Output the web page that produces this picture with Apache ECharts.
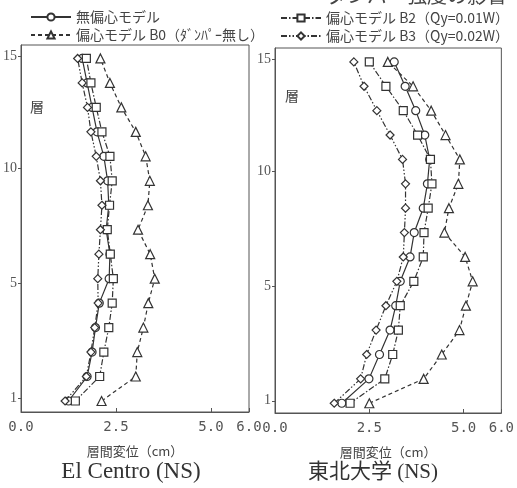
<!DOCTYPE html>
<html><head><meta charset="utf-8">
<script src="https://cdn.jsdelivr.net/npm/echarts@6/dist/echarts.min.js"></script>
<style>html,body{margin:0;padding:0;background:#fff}#c{width:517px;height:488px}</style>
</head><body><div id="c"></div>
<script>
const floors = [1,2,3,4,5,6,7,8,9,10,11,12,13,14,15];
const seriesNames = ['無偏心モデル', '偏心モデル B0（ﾀﾞﾝﾊﾟｰ無し）', '偏心モデル B2（Qy=0.01W）', '偏心モデル B3（Qy=0.02W）'];
// El Centro (NS) — inter-storey drift (cm), floor 1..15
const elNoEcc = [1.25,1.74,1.87,1.96,2.06,2.32,2.34,2.24,2.31,2.28,2.18,2.00,1.87,1.74,1.61];
const elB0    = [2.12,3.02,3.06,3.22,3.35,3.52,3.40,3.08,3.34,3.39,3.28,3.02,2.64,2.34,2.09];
const elB2    = [1.43,2.07,2.18,2.31,2.40,2.43,2.35,2.27,2.33,2.40,2.34,2.13,1.98,1.84,1.72];
const elB3    = [1.16,1.72,1.84,1.94,2.03,2.02,2.05,2.09,2.13,2.09,1.98,1.84,1.75,1.61,1.49];
// 東北大学 (NS)
const thNoEcc = [1.77,2.49,2.77,3.05,3.20,3.32,3.58,3.69,3.93,4.04,4.10,3.97,3.73,3.45,3.16];
const thB0    = [2.50,3.94,4.42,4.89,5.06,5.24,5.04,4.49,4.61,4.86,4.90,4.52,4.14,3.66,2.99];
const thB2    = [1.99,2.91,3.12,3.27,3.32,3.68,3.93,3.95,4.06,4.16,4.12,3.78,3.40,2.94,2.50];
const thB3    = [1.57,2.27,2.43,2.68,2.94,3.23,3.40,3.43,3.46,3.46,3.38,3.05,2.70,2.36,2.09];
// tick label positions (as drawn in the figure) and texts
const yTickPos = [1.1, 5.8, 10.5, 15.1];
const yTickText = ['1', '5', '10', '15'];
const xTitle = '層間変位（cm）';
const panelTitles = ['El Centro (NS)', '東北大学 (NS)'];

const ink = '#333';
const symbols = ['circle', 'triangle', 'rect', 'diamond'];
const dashes = ['solid', [4,3], [6,2,1.5,2], [6,2,1.5,2,1.5,2]];

function mk(name, idx, vals, grid) {
  return {
    name: name, type: 'line', xAxisIndex: grid, yAxisIndex: grid,
    data: vals.map((v, i) => [v, floors[i]]),
    symbol: symbols[idx], symbolSize: idx === 1 ? 9 : 8,
    showAllSymbol: true,
    lineStyle: {color: ink, width: 1.2, type: dashes[idx]},
    itemStyle: {color: '#fff', borderColor: ink, borderWidth: 1.2},
    z: 2 + idx, animation: false
  };
}

function xAx(grid) {
  return {
    gridIndex: grid, type: 'value', min: 0, max: 6, interval: 2.5,
    name: xTitle, nameLocation: 'middle', nameGap: 33,
    nameTextStyle: {fontSize: 13, color: '#444', fontFamily: 'Noto Sans CJK JP'},
    axisLine: {lineStyle: {color: '#555'}},
    axisTick: {inside: true, length: 4, lineStyle: {color: '#555'}},
    axisLabel: {color: '#555', fontSize: 14, fontFamily: 'DejaVu Sans Mono', margin: 8,
      formatter: v => v.toFixed(1)},
    splitLine: {show: false}
  };
}
function yAx(grid, min, max) {
  return {
    gridIndex: grid, type: 'value', min: min, max: max,
    axisLine: {lineStyle: {color: '#555'}},
    axisTick: {length: 3, lineStyle: {color: '#555'}, customValues: yTickPos},
    axisLabel: {color: '#555', fontSize: 14, fontFamily: 'Liberation Serif', margin: 4,
      customValues: yTickPos,
      formatter: v => { const i = yTickPos.findIndex(p => Math.abs(p - v) < 1e-6); return i >= 0 ? yTickText[i] : ''; }},
    splitLine: {show: false}
  };
}

const legendText = {fontSize: 14, color: '#444', fontFamily: 'Noto Sans CJK JP'};
const chart = echarts.init(document.getElementById('c'), null, {renderer: 'canvas'});
chart.setOption({
  backgroundColor: '#fff',
  animation: false,
  grid: [
    {left: 21, right: 268, top: 45, bottom: 76, show: true, borderColor: '#555', borderWidth: 1},
    {left: 275, right: 13, top: 48, bottom: 75, show: true, borderColor: '#555', borderWidth: 1}
  ],
  legend: [
    {data: [seriesNames[0], seriesNames[1]], orient: 'vertical', left: 25, top: 5, itemWidth: 40, itemHeight: 9, itemGap: 4,
      textStyle: legendText, selectedMode: false},
    {data: [seriesNames[2], seriesNames[3]], orient: 'vertical', left: 275, top: 6, itemWidth: 40, itemHeight: 9, itemGap: 4,
      textStyle: legendText, selectedMode: false}
  ],
  xAxis: [xAx(0), xAx(1)],
  yAxis: [yAx(0, 0.55, 15.55), yAx(1, 0.6, 15.57)],
  series: [
    mk(seriesNames[0], 0, elNoEcc, 0), mk(seriesNames[1], 1, elB0, 0),
    mk(seriesNames[2], 2, elB2, 0), mk(seriesNames[3], 3, elB3, 0),
    mk(seriesNames[0], 0, thNoEcc, 1), mk(seriesNames[1], 1, thB0, 1),
    mk(seriesNames[2], 2, thB2, 1), mk(seriesNames[3], 3, thB3, 1)
  ],
  graphic: [
    {type: 'text', left: 30, top: 100, style: {text: '層', fontSize: 14, fill: '#444', fontFamily: 'Noto Sans CJK JP'}},
    {type: 'text', left: 285, top: 89, style: {text: '層', fontSize: 14, fill: '#444', fontFamily: 'Noto Sans CJK JP'}},
    {type: 'text', x: 131, y: 472, style: {text: panelTitles[0], fontSize: 23, fill: '#333', fontFamily: 'Liberation Serif', align: 'center', verticalAlign: 'middle'}},
    {type: 'text', x: 373, y: 472, style: {text: panelTitles[1], fontSize: 21, fill: '#333', fontFamily: 'Liberation Serif, Noto Sans CJK JP', align: 'center', verticalAlign: 'middle'}},
    {type: 'text', x: 507, y: -5, style: {text: 'ダンパー強度の影響', fontSize: 20, fill: '#444', fontFamily: 'Noto Sans CJK JP', align: 'right', verticalAlign: 'middle'}}
  ]
});
</script></body></html>
